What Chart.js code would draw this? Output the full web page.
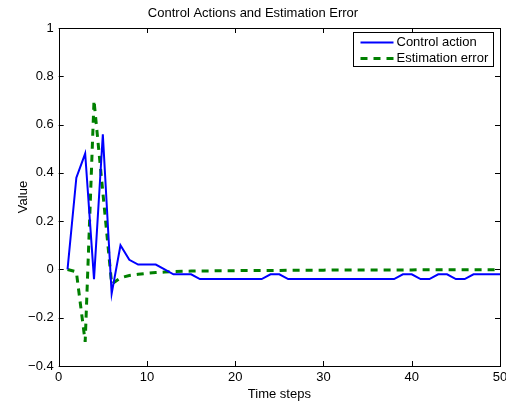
<!DOCTYPE html>
<html>
<head>
<meta charset="utf-8">
<script src="https://cdn.jsdelivr.net/npm/chart.js@4"></script>
<style>
    body { margin: 0; background: #fff; }
    #wrap { width: 506px; height: 402px; }
</style>
</head>
<body>
<div id="wrap"><canvas id="chart" width="506" height="402"></canvas></div>
<script>
const timeSteps = [1, 2, 3, 4, 5, 6, 7, 8, 9, 10, 11, 12, 13, 14, 15, 16, 17, 18, 19, 20,
    21, 22, 23, 24, 25, 26, 27, 28, 29, 30, 31, 32, 33, 34, 35, 36, 37, 38, 39, 40,
    41, 42, 43, 44, 45, 46, 47, 48, 49, 50];

const controlAction = [0, 0.38, 0.48, -0.04, 0.56, -0.10, 0.10, 0.04, 0.02, 0.02,
    0.02, 0, -0.02, -0.02, -0.02, -0.04, -0.04, -0.04, -0.04, -0.04,
    -0.04, -0.04, -0.04, -0.02, -0.02, -0.04, -0.04, -0.04, -0.04, -0.04,
    -0.04, -0.04, -0.04, -0.04, -0.04, -0.04, -0.04, -0.04, -0.02, -0.02,
    -0.04, -0.04, -0.02, -0.02, -0.04, -0.04, -0.02, -0.02, -0.02, -0.02];

const estimationError = [0, -0.01, -0.30, 0.70, 0.32, -0.06, -0.035, -0.025, -0.02, -0.016,
    -0.013, -0.011, -0.009, -0.008, -0.007, -0.006, -0.006, -0.005, -0.005, -0.005,
    -0.004, -0.004, -0.004, -0.004, -0.004, -0.003, -0.003, -0.003, -0.003, -0.003,
    -0.002, -0.002, -0.002, -0.002, -0.002, -0.002, -0.002, -0.002, -0.002, -0.002,
    -0.001, -0.001, -0.001, -0.001, -0.001, -0.001, -0.001, -0.001, -0.001, -0.001];

const xTicks = [0, 10, 20, 30, 40, 50];
const yTicks = [-0.4, -0.2, 0, 0.2, 0.4, 0.6, 0.8, 1];

const FONT = 'Liberation Sans, Arial, Helvetica, sans-serif';

// box around the plot, inward ticks and the legend (MATLAB look)
const matlabFrame = {
    id: 'matlabFrame',
    afterDraw(chart) {
        const ctx = chart.ctx;
        const a = chart.chartArea;
        const xs = chart.scales.x, ys = chart.scales.y;
        ctx.save();
        ctx.strokeStyle = '#000';
        ctx.lineWidth = 1;
        ctx.beginPath();
        for (const t of xTicks) {
            const px = Math.round(xs.getPixelForValue(t)) + 0.5;
            ctx.moveTo(px, a.bottom); ctx.lineTo(px, a.bottom - 5);
            ctx.moveTo(px, a.top); ctx.lineTo(px, a.top + 5);
        }
        for (const t of yTicks) {
            const py = Math.round(ys.getPixelForValue(t)) + 0.5;
            ctx.moveTo(a.left, py); ctx.lineTo(a.left + 5, py);
            ctx.moveTo(a.right, py); ctx.lineTo(a.right - 5, py);
        }
        ctx.stroke();
        ctx.strokeRect(Math.round(a.left) + 0.5, Math.round(a.top) + 0.5,
            Math.round(a.right - a.left), Math.round(a.bottom - a.top));

        // legend
        const bx = 353.5, by = 32.5, bw = 140, bh = 34;
        ctx.fillStyle = '#fff';
        ctx.fillRect(bx, by, bw, bh);
        ctx.strokeRect(bx, by, bw, bh);
        ctx.font = '13px ' + FONT;
        ctx.textBaseline = 'middle';
        chart.data.datasets.forEach((ds, i) => {
            const y = by + 10 + i * 16;
            ctx.strokeStyle = ds.borderColor;
            ctx.lineWidth = ds.borderWidth;
            ctx.setLineDash(ds.borderDash || []);
            ctx.beginPath();
            ctx.moveTo(bx + 7, y); ctx.lineTo(bx + 40, y);
            ctx.stroke();
            ctx.setLineDash([]);
            ctx.fillStyle = '#000';
            ctx.fillText(ds.label, bx + 43, y);
        });
        ctx.restore();
    }
};

new Chart(document.getElementById('chart').getContext('2d'), {
    type: 'line',
    data: {
        datasets: [
            {
                label: 'Control action',
                data: timeSteps.map((t, i) => ({ x: t, y: controlAction[i] })),
                borderColor: '#0000ff',
                borderWidth: 2,
                pointRadius: 0,
                tension: 0,
                fill: false
            },
            {
                label: 'Estimation error',
                data: timeSteps.map((t, i) => ({ x: t, y: estimationError[i] })),
                borderColor: '#008000',
                borderWidth: 3,
                borderDash: [7, 6],
                pointRadius: 0,
                tension: 0,
                fill: false
            }
        ]
    },
    options: {
        responsive: false,
        animation: false,
        layout: { padding: { left: 0, right: 0, top: 0, bottom: 0 } },
        plugins: {
            legend: { display: false },
            tooltip: { enabled: false },
            title: {
                display: true,
                text: 'Control Actions and Estimation Error',
                color: '#000',
                font: { family: FONT, size: 13, weight: 'normal' },
                padding: { top: 5.2, bottom: 7.2 }
            }
        },
        scales: {
            x: {
                type: 'linear',
                min: 0,
                max: 50,
                afterBuildTicks: s => { s.ticks = xTicks.map(v => ({ value: v })); },
                afterFit: s => { s.height = 36; s.paddingRight = 6; },
                grid: { display: false, drawTicks: false },
                border: { display: false },
                ticks: { color: '#000', padding: 4, maxRotation: 0, font: { family: FONT, size: 13 } },
                title: {
                    display: true,
                    text: 'Time steps',
                    color: '#000',
                    font: { family: FONT, size: 13 },
                    padding: { top: 2.2, bottom: 0 }
                }
            },
            y: {
                min: -0.4,
                max: 1,
                afterBuildTicks: s => { s.ticks = yTicks.map(v => ({ value: v })); },
                afterFit: s => { s.width = 58.7; },
                grid: { display: false, drawTicks: false },
                border: { display: false },
                ticks: {
                    color: '#000',
                    padding: 5,
                    font: { family: FONT, size: 13 },
                    callback: v => (v < 0 ? '\u2212' + String(Math.abs(+v.toFixed(1))) : String(+v.toFixed(1)))
                },
                title: {
                    display: true,
                    text: 'Value',
                    color: '#000',
                    font: { family: FONT, size: 13 },
                    padding: { top: 15.2, bottom: 0 }
                }
            }
        }
    },
    plugins: [matlabFrame]
});
</script>
</body>
</html>
